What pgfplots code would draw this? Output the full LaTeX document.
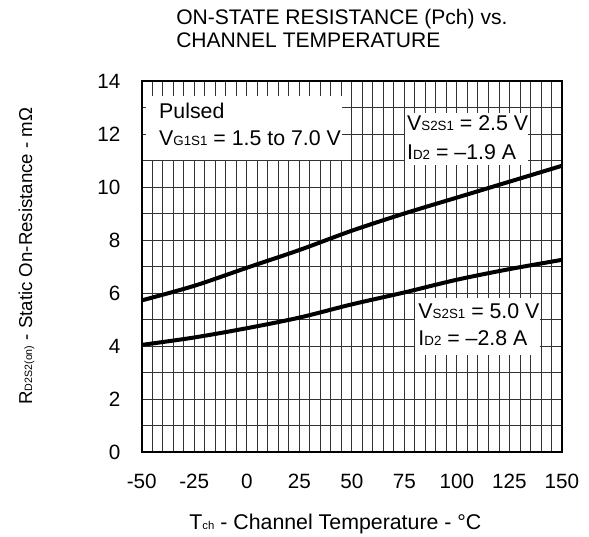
\documentclass[border=0pt]{standalone}
\usepackage{fontspec}
\setmainfont{Liberation Sans}
\usepackage{pgfplots}
\pgfplotsset{compat=1.18}
\newcommand{\subx}[1]{{\fontsize{8.5}{8.5}\selectfont #1}}
\newcommand{\suby}[1]{{\fontsize{8}{8}\selectfont #1}}
\newcommand{\subb}[1]{{\fontsize{10}{10}\selectfont #1}}
\newcommand{\tickf}{\fontsize{15.5}{18}\selectfont}
\newcommand{\xlf}{\fontsize{16}{18}\selectfont}
\newcommand{\ylf}{\fontsize{14}{17}\selectfont}
\newcommand{\annf}{\fontsize{16}{18}\selectfont}
\newcommand{\titf}{\fontsize{15.8}{18}\selectfont}
\begin{document}
\begin{tikzpicture}[x=1pt,y=1pt]
\path[use as bounding box] (-106.3pt,-63.75pt) rectangle (335.5pt,339pt);
\begin{axis}[
  at={(0,0)}, anchor=south west,
  scale only axis,
  width=315.2pt, height=278.25pt,
  xmin=-50, xmax=150, ymin=0, ymax=14,
  xtick={-50,-25,0,25,50,75,100,125,150},
  xticklabels={-50,-25,0,25,50,75,100,125,150},
  ytick={0,2,4,6,8,10,12,14},
  minor x tick num=4,
  minor y tick num=1,
  grid=both,
  major grid style={black!80, line width=0.6pt},
  minor grid style={black!80, line width=0.6pt},
  major tick length=0pt, minor tick length=0pt,
  axis line style={line width=1.8pt},
  /pgf/number format/assume math mode=true,
  tick label style={font=\tickf},
  xticklabel style={anchor=base, yshift=-27.5pt},
  yticklabel style={anchor=base east, xshift=-12.5pt, yshift=-5.5pt},
  xlabel={T\subx{ch} - Channel Temperature - °C},
  ylabel={R\suby{D2S2(on)} - Static On-Resistance - mΩ},
  every axis x label/.style={at={(rel axis cs:0.461,-0.210)}, anchor=base, font=\xlf},
  every axis y label/.style={at={(rel axis cs:-0.261,0.528)}, anchor=base, rotate=90, font=\ylf},
  clip=false,
]
% text boxes
\fill[white] (axis cs:-48,11.02) rectangle (axis cs:45.5,13.43);
\fill[white] (axis cs:75.4,10.83) rectangle (axis cs:134,12.79);
\fill[white] (axis cs:80.1,3.66) rectangle (axis cs:139.6,5.81);

\addplot[black, line width=3pt, smooth] coordinates {
(-50,5.72) (-25,6.27) (0,6.95) (25,7.62) (50,8.35) (75,9.0) (100,9.6) (125,10.2) (150,10.8)};
\addplot[black, line width=3pt, smooth] coordinates {
(-50,4.04) (-25,4.32) (0,4.67) (25,5.07) (50,5.57) (75,6.02) (100,6.5) (125,6.9) (150,7.25)};

\node[anchor=base west, font=\annf, inner sep=0pt] at (axis cs:-41.8,12.57) {Pulsed};
\node[anchor=base west, font=\annf, inner sep=0pt] at (axis cs:-41.8,11.56) {V\subb{G1S1} = 1.5 to 7.0 V};
\node[anchor=base west, font=\annf, inner sep=0pt] at (axis cs:76.2,12.15) {V\subb{S2S1} = 2.5 V};
\node[anchor=base west, font=\annf, inner sep=0pt] at (axis cs:76.2,11.02) {I\subb{D2} = –1.9 A};
\node[anchor=base west, font=\annf, inner sep=0pt] at (axis cs:81.6,5.02) {V\subb{S2S1} = 5.0 V};
\node[anchor=base west, font=\annf, inner sep=0pt] at (axis cs:81.6,4.0) {I\subb{D2} = –2.8 A};

\node[anchor=base west, font=\titf, inner sep=0pt] at (rel axis cs:0.0816,1.151) {ON-STATE RESISTANCE (Pch) vs.};
\node[anchor=base west, font=\titf, inner sep=0pt] at (rel axis cs:0.0816,1.089) {CHANNEL TEMPERATURE};
\end{axis}
\end{tikzpicture}
\end{document}
